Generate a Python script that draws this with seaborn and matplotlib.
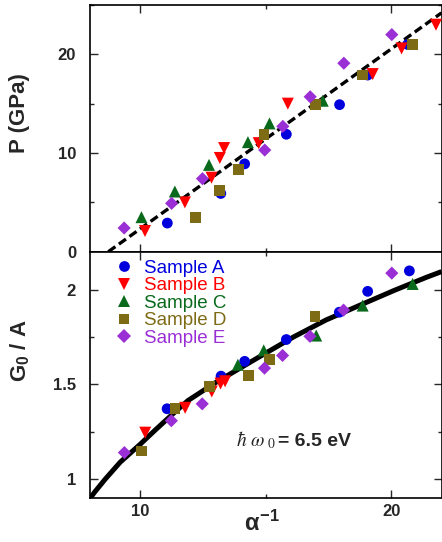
import matplotlib
matplotlib.use("Agg")
import matplotlib.pyplot as plt
import numpy as np
import pandas as pd
import seaborn as sns
from matplotlib.ticker import MultipleLocator, FuncFormatter

# ---------------- data ----------------
samples = ["Sample A", "Sample B", "Sample C", "Sample D", "Sample E"]
colors = ["#0000dd", "#ff0000", "#0a6a1c", "#7e6b16", "#9a2fd6"]
markers = ["o", "v", "^", "s", "D"]
marker_sizes = [60, 75, 75, 60, 45]

# pressure vs inverse coupling
p_x_a = [11.08, 13.21, 14.16, 15.82, 17.94, 19.06, 20.65]
p_y_a = [2.9, 5.9, 8.9, 11.9, 14.9, 17.9, 21.0]
p_x_b = [10.19, 11.78, 12.84, 13.17, 13.34, 14.72, 15.88, 19.26, 20.41, 21.78]
p_y_b = [2.1, 5.0, 7.5, 9.5, 10.5, 11.0, 15.0, 18.0, 20.6, 23.0]
p_x_c = [10.05, 11.38, 12.74, 14.29, 15.15, 17.27]
p_y_c = [3.5, 6.1, 8.8, 11.1, 13.0, 15.3]
p_x_d = [12.19, 13.17, 13.90, 14.93, 16.97, 18.86, 20.85]
p_y_d = [3.5, 6.2, 8.3, 11.9, 14.9, 17.9, 21.0]
p_x_e = [9.36, 11.25, 12.48, 14.96, 15.68, 16.77, 18.11, 20.02]
p_y_e = [2.4, 4.9, 7.4, 10.3, 12.7, 15.7, 19.1, 22.0]

# linear fit of P
p_fit_x = [8.73, 22.0]
p_fit_y = [0.0, 24.2]

# G0 / A vs inverse coupling
g_x_a = [11.07, 13.22, 14.16, 15.82, 17.93, 19.06, 20.72]
g_y_a = [1.372, 1.544, 1.622, 1.737, 1.881, 1.991, 2.099]
g_x_b = [10.20, 11.79, 12.85, 13.20, 13.38]
g_y_b = [1.246, 1.377, 1.463, 1.505, 1.517]
g_x_c = [13.89, 14.92, 17.01, 18.86, 20.85]
g_y_c = [1.604, 1.680, 1.758, 1.916, 2.030]
g_x_d = [10.05, 11.39, 12.76, 14.30, 15.15, 16.96]
g_y_d = [1.149, 1.374, 1.490, 1.547, 1.632, 1.860]
g_x_e = [9.37, 11.24, 12.47, 14.95, 15.67, 16.76, 18.10, 20.02]
g_y_e = [1.141, 1.309, 1.398, 1.586, 1.653, 1.754, 1.892, 2.087]

# model curve for hbar*omega0 = 6.5 eV
g_curve_x = [8.0, 8.2, 8.6, 9.2, 10.0, 10.6, 11.3, 11.9, 13.0, 13.9,
             14.8, 16.1, 17.4, 18.7, 20.1, 21.4, 22.0]
g_curve_y = [0.90, 0.935, 1.0, 1.09, 1.185, 1.26, 1.345, 1.415, 1.51, 1.58,
             1.65, 1.75, 1.84, 1.915, 1.995, 2.065, 2.095]


def frame(xs, ys, col):
    rows = []
    for s, x, y in zip(samples, xs, ys):
        rows.append(pd.DataFrame({"inv_alpha": x, col: y, "sample": s}))
    return pd.concat(rows, ignore_index=True)


df_p = frame([p_x_a, p_x_b, p_x_c, p_x_d, p_x_e],
             [p_y_a, p_y_b, p_y_c, p_y_d, p_y_e], "P")
df_g = frame([g_x_a, g_x_b, g_x_c, g_x_d, g_x_e],
             [g_y_a, g_y_b, g_y_c, g_y_d, g_y_e], "G")

palette = dict(zip(samples, colors))
marker_map = dict(zip(samples, markers))
size_map = dict(zip(samples, marker_sizes))

# ---------------- style ----------------
sns.set_style("ticks")
plt.rcParams["font.family"] = ["Liberation Sans", "DejaVu Sans"]
plt.rcParams["mathtext.fontset"] = "custom"
plt.rcParams["mathtext.rm"] = "Liberation Sans:bold"
plt.rcParams["mathtext.it"] = "Liberation Sans:bold"
plt.rcParams["mathtext.bf"] = "Liberation Sans:bold"
plt.rcParams["axes.linewidth"] = 1.2

W, H = 442, 542
fig = plt.figure(figsize=(W / 100, H / 100), dpi=100)
left, right = 90, 441.5
ax1 = fig.add_axes([left / W, 1 - 251.7 / H, (right - left) / W, (251.7 - 5) / H])
ax2 = fig.add_axes([left / W, 1 - 498.3 / H, (right - left) / W, (498.3 - 251.7) / H])

# ---------------- top panel ----------------
ax1.plot(p_fit_x, p_fit_y, color="black", lw=2.4, linestyle=(0, (2.6, 1.3)), zorder=1)
sns.scatterplot(data=df_p, x="inv_alpha", y="P", hue="sample", style="sample",
                size="sample", palette=palette, markers=marker_map, sizes=size_map,
                linewidth=0, ax=ax1, legend=False, zorder=3)
ax1.set_xlim(8, 22)
ax1.set_ylim(0, 25)
ax1.yaxis.set_major_locator(MultipleLocator(10))
ax1.yaxis.set_minor_locator(MultipleLocator(5))
ax1.set_xlabel("")
ax1.set_ylabel("P (GPa)", fontsize=16, fontweight="bold")
ax1.yaxis.set_label_coords(-0.17, 0.56)

# ---------------- bottom panel ----------------
ax2.plot(g_curve_x, g_curve_y, color="black", lw=3.6, solid_capstyle="butt", zorder=1)
sns.scatterplot(data=df_g, x="inv_alpha", y="G", hue="sample", style="sample",
                size="sample", palette=palette, markers=marker_map, sizes=size_map,
                linewidth=0, ax=ax2, legend=True, zorder=3)
ax2.set_xlim(8, 22)
ax2.set_ylim(0.9, 2.2)
ax2.yaxis.set_major_locator(MultipleLocator(0.5))
ax2.yaxis.set_minor_locator(MultipleLocator(0.25))
ax2.yaxis.set_major_formatter(FuncFormatter(lambda v, _: f"{v:g}"))
ax2.set_xlabel(r"$\alpha^{-1}$", fontsize=17)
ax2.xaxis.set_label_coords(0.49, -0.05)
ax2.set_ylabel(r"G$_0$ / A", fontsize=16, fontweight="bold")
ax2.yaxis.set_label_coords(-0.165, 0.6)

handles, labels = ax2.get_legend_handles_labels()
leg = ax2.legend(handles, labels, loc="upper left", bbox_to_anchor=(0.07, 0.968),
                 frameon=False, fontsize=13.5, labelcolor=colors,
                 handlelength=0.95, handletextpad=0.6, labelspacing=0.02,
                 borderpad=0, borderaxespad=0)

ax2.text(13.83, 1.175, r"$\hbar\ \omega_{\ 0}$", fontsize=14, math_fontfamily="stix",
         va="baseline", ha="left")
ax2.text(15.5, 1.175, "= 6.5 eV", fontsize=14, fontweight="bold",
         va="baseline", ha="left")

for ax in (ax1, ax2):
    ax.xaxis.set_major_locator(MultipleLocator(10))
    ax.xaxis.set_minor_locator(MultipleLocator(5))
    ax.tick_params(which="both", direction="in", top=True, right=True, width=1.0)
    ax.tick_params(which="major", length=6)
    ax.tick_params(which="minor", length=3)
    ax.tick_params(axis="y", pad=10)
    ax.tick_params(axis="x", pad=4)
    for lab in ax.get_xticklabels() + ax.get_yticklabels():
        lab.set_fontweight("bold")
        lab.set_fontsize(12)
    for sp in ax.spines.values():
        sp.set_visible(True)
        sp.set_color("black")

ax1.tick_params(labelbottom=False)

fig.savefig("out.png", dpi=100)
